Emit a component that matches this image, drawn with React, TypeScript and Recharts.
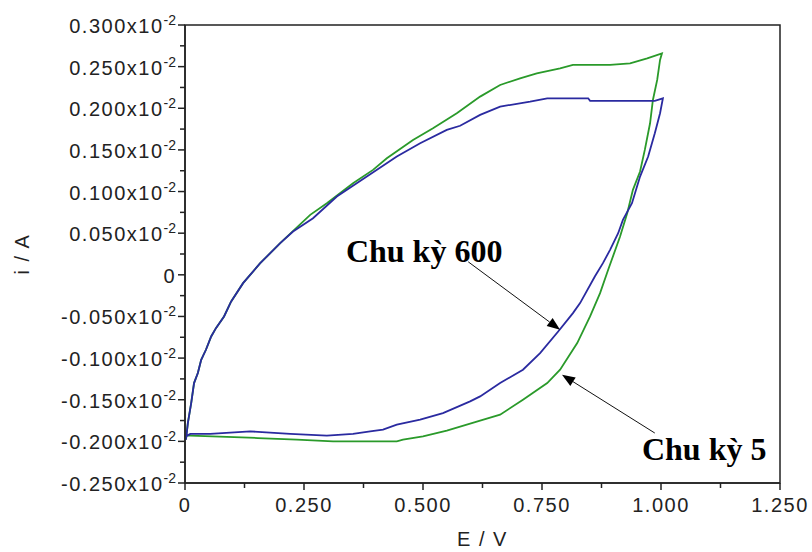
import React from "react";
import {
  LineChart,
  Line,
  XAxis,
  YAxis,
  ReferenceArea,
  ReferenceLine,
  ReferenceDot,
} from "recharts";

// potential E (V) and current i (x10^-2 A)
const cycle5Potential = [
  0.002, 0.006, 0.013, 0.019, 0.027, 0.034, 0.044, 0.055, 0.065, 0.082, 0.097,
  0.122, 0.158, 0.2, 0.263, 0.298, 0.353, 0.395, 0.424, 0.479, 0.521, 0.571,
  0.62, 0.662, 0.704, 0.739, 0.788, 0.815, 0.893, 0.935, 0.971, 1.002, 0.998,
  0.992, 0.983, 0.977, 0.966, 0.956, 0.941, 0.929, 0.914, 0.889, 0.872, 0.851,
  0.824, 0.788, 0.761, 0.71, 0.662, 0.62, 0.55, 0.5, 0.458, 0.445, 0.311, 0.235,
  0.153, 0.011, 0.002,
];
const cycle5Current = [
  -0.198, -0.178, -0.154, -0.13, -0.118, -0.102, -0.09, -0.074, -0.064, -0.05,
  -0.032, -0.01, 0.014, 0.038, 0.072, 0.086, 0.11, 0.126, 0.14, 0.162, 0.176,
  0.194, 0.214, 0.228, 0.236, 0.242, 0.248, 0.252, 0.252, 0.254, 0.26, 0.266,
  0.258, 0.234, 0.21, 0.182, 0.15, 0.124, 0.102, 0.074, 0.046, 0.006, -0.022,
  -0.05, -0.082, -0.114, -0.13, -0.15, -0.168, -0.175, -0.187, -0.194, -0.198,
  -0.2, -0.2, -0.198, -0.196, -0.193, -0.193,
];

const cycle600Potential = [
  0.002, 0.006, 0.013, 0.019, 0.027, 0.034, 0.044, 0.055, 0.065, 0.082, 0.097,
  0.122, 0.158, 0.2, 0.227, 0.269, 0.319, 0.382, 0.445, 0.494, 0.55, 0.578,
  0.62, 0.662, 0.725, 0.761, 0.847, 0.851, 0.987, 1.004, 0.998, 0.987, 0.973,
  0.956, 0.939, 0.92, 0.91, 0.893, 0.878, 0.861, 0.83, 0.815, 0.784, 0.746,
  0.71, 0.662, 0.62, 0.599, 0.542, 0.494, 0.445, 0.416, 0.389, 0.353, 0.298,
  0.221, 0.137, 0.053, 0.011, 0.002,
];
const cycle600Current = [
  -0.198, -0.178, -0.154, -0.13, -0.118, -0.102, -0.09, -0.074, -0.064, -0.05,
  -0.032, -0.01, 0.014, 0.038, 0.052, 0.068, 0.094, 0.118, 0.142, 0.158, 0.174,
  0.179, 0.192, 0.202, 0.208, 0.212, 0.212, 0.209, 0.209, 0.212, 0.194, 0.17,
  0.142, 0.118, 0.086, 0.066, 0.05, 0.03, 0.014, -0.002, -0.034, -0.046,
  -0.068, -0.094, -0.114, -0.13, -0.146, -0.152, -0.166, -0.174, -0.18, -0.186,
  -0.188, -0.191, -0.193, -0.191, -0.188, -0.191, -0.191, -0.194,
];

const xTicks = [
  0, 0.125, 0.25, 0.375, 0.5, 0.625, 0.75, 0.875, 1, 1.125, 1.25,
];
const yTicks = [
  -0.25, -0.225, -0.2, -0.175, -0.15, -0.125, -0.1, -0.075, -0.05, -0.025, 0,
  0.025, 0.05, 0.075, 0.1, 0.125, 0.15, 0.175, 0.2, 0.225, 0.25, 0.275, 0.3,
];

const cycle5 = cycle5Potential.map((e, k) => ({ e, i: cycle5Current[k] }));
const cycle600 = cycle600Potential.map((e, k) => ({ e, i: cycle600Current[k] }));

const tickFont = {
  fontFamily: "'Liberation Sans', Arial, sans-serif",
  fontSize: 20,
  letterSpacing: 1.5,
  fill: "#222",
};

const isMajor = (v: number, step: number) =>
  Math.round(v * 1000) % Math.round(step * 1000) === 0;

function YTick(props: any) {
  const { x, y, payload } = props;
  const v = payload.value;
  const major = isMajor(v, 0.05);
  return (
    <g>
      <line x1={x - (major ? 7 : 5)} y1={y} x2={x} y2={y} stroke="#222" strokeWidth={1.5} />
      {major && (
        <text x={x - 9} y={y + 8} textAnchor="end" {...tickFont}>
          {v === 0 ? (
            "0"
          ) : (
            <>
              <tspan>{v.toFixed(3) + "x10"}</tspan>
              <tspan dy={-8} fontSize={14} letterSpacing={0}>
                -2
              </tspan>
            </>
          )}
        </text>
      )}
    </g>
  );
}

function XTick(props: any) {
  const { x, y, payload } = props;
  const v = payload.value;
  const major = isMajor(v, 0.25);
  return (
    <g>
      <line x1={x} y1={y} x2={x} y2={y + (major ? 7 : 5)} stroke="#222" strokeWidth={1.5} />
      {major && (
        <text x={x} y={y + 29} textAnchor="middle" {...tickFont}>
          {v === 0 ? "0" : v.toFixed(3)}
        </text>
      )}
    </g>
  );
}

function Arrow(props: any) {
  const { x1, y1, x2, y2 } = props;
  const dx = x2 - x1;
  const dy = y2 - y1;
  const len = Math.sqrt(dx * dx + dy * dy);
  const ux = dx / len;
  const uy = dy / len;
  const hl = 13;
  const hw = 5;
  const bx = x2 - ux * hl;
  const by = y2 - uy * hl;
  return (
    <g>
      <line x1={x1} y1={y1} x2={bx} y2={by} stroke="#111" strokeWidth={1} />
      <polygon
        points={`${x2},${y2} ${bx - uy * hw},${by + ux * hw} ${bx + uy * hw},${by - ux * hw}`}
        fill="#000"
      />
    </g>
  );
}

function Label(text: string) {
  return (props: any) => (
    <text
      x={props.cx}
      y={props.cy}
      fontFamily="'Liberation Serif', 'Times New Roman', serif"
      fontWeight="bold"
      fontSize={32}
      fill="#000"
    >
      {text}
    </text>
  );
}

export default function App() {
  return (
    <div
      style={{
        position: "absolute",
        left: 0,
        top: 0,
        width: 812,
        height: 552,
        background: "#fff",
      }}
    >
      <LineChart
        width={812}
        height={552}
        margin={{ top: 25, right: 32, bottom: 0, left: 0 }}
      >
        <XAxis
          type="number"
          dataKey="e"
          domain={[0, 1.25]}
          ticks={xTicks}
          allowDataOverflow
          height={69}
          tickSize={0}
          tickMargin={0}
          tickLine={false}
          tick={<XTick />}
          interval={0}
          axisLine={{ stroke: "#222", strokeWidth: 1.5 }}
          label={{
            value: "E / V",
            position: "insideBottom",
            offset: 6,
            style: { ...tickFont, textAnchor: "middle" },
          }}
        />
        <YAxis
          type="number"
          dataKey="i"
          domain={[-0.25, 0.3]}
          ticks={yTicks}
          allowDataOverflow
          width={185}
          tickSize={0}
          tickMargin={0}
          tickLine={false}
          tick={<YTick />}
          interval={0}
          axisLine={{ stroke: "#222", strokeWidth: 1.5 }}
          label={{
            value: "i / A",
            angle: -90,
            position: "insideLeft",
            offset: 22,
            style: { ...tickFont, textAnchor: "middle" },
          }}
        />
        <ReferenceArea
          x1={0}
          x2={1.25}
          y1={-0.25}
          y2={0.3}
          fill="none"
          stroke="#222"
          strokeWidth={1.5}
          fillOpacity={0}
        />
        <Line
          data={cycle5}
          dataKey="i"
          type="linear"
          stroke="#2a9a2a"
          strokeWidth={1.8}
          dot={false}
          isAnimationActive={false}
        />
        <Line
          data={cycle600}
          dataKey="i"
          type="linear"
          stroke="#2a2aa0"
          strokeWidth={1.8}
          dot={false}
          isAnimationActive={false}
        />
        <ReferenceLine
          segment={[
            { x: 0.595, y: 0.0156 },
            { x: 0.788, y: -0.066 },
          ]}
          shape={<Arrow />}
        />
        <ReferenceLine
          segment={[
            { x: 0.987, y: -0.19 },
            { x: 0.792, y: -0.12 },
          ]}
          shape={<Arrow />}
        />
        <ReferenceDot x={0.338} y={0.0156} r={0} shape={Label("Chu kỳ 600")} />
        <ReferenceDot x={0.96} y={-0.222} r={0} shape={Label("Chu kỳ 5")} />
      </LineChart>
    </div>
  );
}
